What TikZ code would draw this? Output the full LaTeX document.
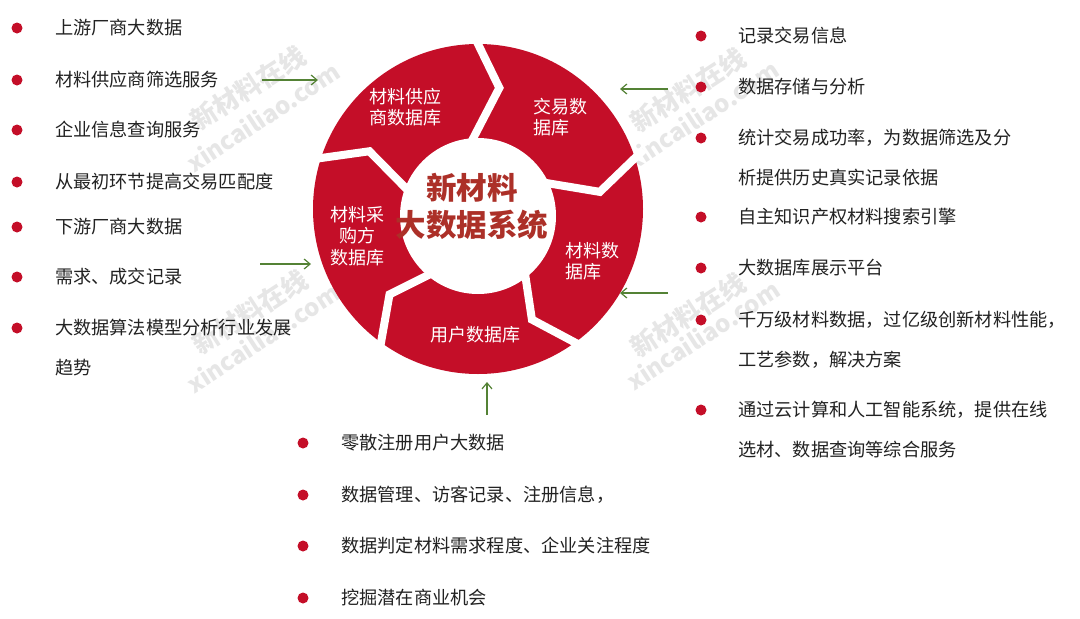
\documentclass[tikz,border=0pt]{standalone}
\usepackage{fontspec}
\setmainfont{Noto Sans CJK SC}
\usetikzlibrary{arrows.meta,calc}
\definecolor{ringred}{RGB}{196,14,40}
\definecolor{titlered}{RGB}{172,48,40}
\definecolor{arrowgreen}{RGB}{84,130,53}
\definecolor{wmgray}{RGB}{230,230,230}
\definecolor{txt}{RGB}{34,34,34}
\begin{document}
\begin{tikzpicture}[x=1pt,y=-1pt,
  bullet/.style={circle,fill=ringred,inner sep=0pt,minimum size=11pt},
  item/.style={anchor=west,inner sep=0pt,align=left,text=txt,font=\fontsize{18.2}{40}\selectfont},
  seg/.style={text=white,inner sep=0pt,font=\fontsize{18}{21.5}\selectfont},
  gapline/.style={draw=white,line width=8pt,line join=miter,miter limit=10},
  feed/.style={draw=arrowgreen,line width=1.2pt,-{Straight Barb[length=6pt,width=10pt]}},
  wm/.style={text=wmgray,inner sep=0pt,rotate=33,font=\bfseries\fontsize{26}{26}\selectfont},
  wmurl/.style={text=wmgray,inner sep=0pt,rotate=33,font=\bfseries\fontsize{24}{24}\selectfont}
]
\useasboundingbox (0,0) rectangle (1080,619);
\fill[white] (0,0) rectangle (1080,619);

% watermarks
\node[wm] (wm1a) at (248,88) {新材料在线};
\node[wmurl] (wm1b) at (263,117) {xincailiao.com};
\node[wm] (wm2a) at (250,312) {新材料在线};
\node[wmurl] (wm2b) at (263,338) {xincailiao.com};
\node[wm] (wm3a) at (688,90) {新材料在线};
\node[wmurl] (wm3b) at (702,115) {xincailiao.com};
\node[wm] (wm4a) at (688,315) {新材料在线};
\node[wmurl] (wm4b) at (703,335) {xincailiao.com};

% ring
\coordinate (C) at (478,209);
\coordinate (Ci) at (478,216);
\fill[ringred] (C) circle[radius=165];
\fill[white] (Ci) circle[radius=78];
\foreach \k in {0,...,4}{
  \pgfmathsetmacro\th{-(90-72*\k)}
  \pgfmathsetmacro\tp{\th+10}
  \coordinate (o\k) at ($(C)+(\th:165)$);
  \coordinate (t\k) at ($(C)+(\tp:123)$);
  \coordinate (i\k) at ($(C)+(\th:80)$);
  \draw[gapline] ($(t\k)!1.25!(o\k)$) -- (t\k) -- ($(t\k)!1.3!(i\k)$);
}

% segment labels
\node[seg,align=center] (supplier) at (405,107) {材料供应\\商数据库};
\node[seg,align=left,anchor=west] (trade) at (533,117) {交易数\\据库};
\node[seg,align=center] (purchase) at (357,236) {材料采\\购方\\数据库};
\node[seg,align=left,anchor=west] (material) at (565,261) {材料数\\据库};
\node[seg] (user) at (475,335) {用户数据库};

% centre title
\node[inner sep=0pt,align=center,text=titlered,font=\bfseries\fontsize{30.5}{37}\selectfont] (title) at (472,206) {新材料\\大数据系统};

% left list
\foreach \y [count=\i] in {28,80,130,182,227,277,328}{
  \node[bullet] (lb\i) at (17,\y) {};
}
\node[item] (l1) at (55,28) {上游厂商大数据};
\node[item] (l2) at (55,80) {材料供应商筛选服务};
\node[item] (l3) at (55,130) {企业信息查询服务};
\node[item] (l4) at (55,182) {从最初环节提高交易匹配度};
\node[item] (l5) at (55,227) {下游厂商大数据};
\node[item] (l6) at (55,277) {需求、成交记录};
\node[item] (l7) at (55,348) {大数据算法模型分析行业发展\\趋势};

% right list
\foreach \y [count=\i] in {36,87,138,217,268,320,410}{
  \node[bullet] (rb\i) at (701,\y) {};
}
\node[item] (r1) at (738,36) {记录交易信息};
\node[item] (r2) at (738,87) {数据存储与分析};
\node[item] (r3) at (738,158) {统计交易成功率，为数据筛选及分\\析提供历史真实记录依据};
\node[item] (r4) at (738,217) {自主知识产权材料搜索引擎};
\node[item] (r5) at (738,268) {大数据库展示平台};
\node[item] (r6) at (738,340) {千万级材料数据，过亿级创新材料性能，\\工艺参数，解决方案};
\node[item] (r7) at (738,430) {通过云计算和人工智能系统，提供在线\\选材、数据查询等综合服务};

% bottom list
\foreach \y [count=\i] in {443,495,546,598}{
  \node[bullet] (bb\i) at (303,\y) {};
}
\node[item] (b1) at (341,443) {零散注册用户大数据};
\node[item] (b2) at (341,495) {数据管理、访客记录、注册信息，};
\node[item] (b3) at (341,546) {数据判定材料需求程度、企业关注程度};
\node[item] (b4) at (341,598) {挖掘潜在商业机会};

% feed arrows
\coordinate (aLs) at (262,80);  \coordinate (aLe) at (318,80);
\coordinate (aL2s) at (260,264); \coordinate (aL2e) at (311,264);
\coordinate (aRs) at (668,89);  \coordinate (aRe) at (620,89);
\coordinate (aR2s) at (668,293); \coordinate (aR2e) at (620,293);
\coordinate (aBs) at (487,415); \coordinate (aBe) at (487,382);
\draw[feed] (aLs) -- (aLe);
\draw[feed] (aL2s) -- (aL2e);
\draw[feed] (aRs) -- (aRe);
\draw[feed] (aR2s) -- (aR2e);
\draw[feed] (aBs) -- (aBe);
\end{tikzpicture}
\end{document}
